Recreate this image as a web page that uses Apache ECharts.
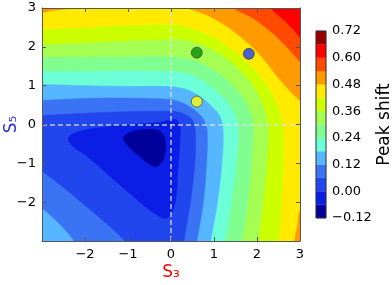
<!DOCTYPE html>
<html><head><meta charset="utf-8">
<script src="https://cdn.jsdelivr.net/npm/echarts@6/dist/echarts.min.js"></script>
<style>html,body{margin:0;padding:0;background:#fff}#c{width:392px;height:285px}</style>
</head><body><div id="c"></div>
<script>
// ---- data ----
const levels = [-0.12,-0.06,0.00,0.06,0.12,0.18,0.24,0.30,0.36,0.42,0.48,0.54,0.60,0.66,0.72];
const bandColors = ['#00009a','#0a1ee6','#2246ee','#3a73f4','#56b6ff','#6cffd8','#80ff90','#a4ff52','#ccff00','#ffea00','#ff9a00','#ff4a00','#ff0000','#990000'];
const colorbarTicks = [-0.12,0.00,0.12,0.24,0.36,0.48,0.60,0.72];
const markerPoints = [[0.6,1.85],[1.81,1.82],[0.6,0.59]];
const markerColors = ['#0a8a0a','#2040ff','#ffff00'];

// contour lines (S3, S5); end points sit just outside the frame
const c060 = [[2.1,3.3],[2.30,3.0],[2.67,2.63],[3.0,2.23],[3.2,1.95]];
const c054 = [[1.2,3.35],[1.44,3.0],[1.85,2.76],[2.30,2.40],[2.64,2.04],[3.0,1.60],[3.2,1.3]];
const c048tl = [[-3.3,2.83],[-3.0,2.87],[-2.6,2.94],[-2.12,3.0],[-1.7,3.2]];
const c048m = [[0.05,3.12],[0.33,3.0],[0.8,2.82],[1.25,2.55],[1.62,2.24],[1.95,1.92],[2.2,1.6],[2.45,1.25],[2.7,0.93],[3.0,0.59],[3.25,0.3]];
const c048br = [[3.3,-2.05],[3.0,-2.2],[2.93,-2.6],[2.86,-3.0],[2.82,-3.3]];
const c042 = [[-3.3,2.42],[-3.0,2.44],[-2.0,2.49],[-1.0,2.54],[0.0,2.56],[0.45,2.48],[1.1,2.17],[1.68,1.68],[2.17,1.1],[2.47,0.5],[2.60,-0.1],[2.61,-0.9],[2.57,-2.0],[2.50,-3.0],[2.47,-3.3]];
const c036 = [[-3.3,2.04],[-3.0,2.05],[-2.0,2.10],[-1.0,2.15],[0.0,2.18],[0.36,2.16],[0.98,1.91],[1.5,1.5],[1.91,0.98],[2.15,0.45],[2.26,-0.1],[2.23,-0.9],[2.14,-2.0],[2.03,-3.0],[2.0,-3.3]];
const c030 = [[-3.3,1.72],[-3.0,1.72],[-2.0,1.73],[-1.0,1.74],[0.0,1.74],[0.3,1.71],[0.76,1.54],[1.22,1.22],[1.6,0.8],[1.83,0.35],[1.91,-0.1],[1.88,-0.9],[1.78,-2.0],[1.65,-3.0],[1.6,-3.3]];
const c024 = [[-3.3,1.36],[-3.0,1.36],[-2.0,1.36],[-1.0,1.37],[0.0,1.36],[0.25,1.33],[0.58,1.22],[0.95,0.95],[1.28,0.61],[1.48,0.25],[1.56,-0.1],[1.52,-0.9],[1.40,-2.0],[1.26,-3.0],[1.22,-3.3]];
const c018 = [[-3.3,1.04],[-3.0,1.03],[-2.0,1.00],[-1.0,0.98],[0.0,0.97],[0.39,0.89],[0.70,0.70],[0.97,0.44],[1.14,0.2],[1.21,-0.15],[1.19,-0.9],[1.08,-2.0],[0.92,-3.0],[0.88,-3.3]];
const c012u = [[-3.3,0.62],[-3.0,0.62],[-2.0,0.67],[-1.0,0.68],[0.0,0.64],[0.21,0.58],[0.45,0.45],[0.66,0.26],[0.78,0.08],[0.84,-0.2],[0.83,-0.9],[0.75,-2.0],[0.60,-3.0],[0.56,-3.3]];
const c012ll = [[-2.15,-3.3],[-2.25,-3.0],[-2.6,-2.55],[-3.0,-2.15],[-3.3,-1.9]];
const c006u = [[-3.3,0.22],[-3.0,0.23],[-2.0,0.29],[-1.0,0.33],[0.0,0.34],[0.2,0.31],[0.38,0.23],[0.5,0.1],[0.56,-0.1],[0.56,-0.9],[0.45,-2.0],[0.30,-3.0],[0.27,-3.3]];
const c006ll = [[-0.9,-3.3],[-1.07,-3.0],[-1.5,-2.55],[-2.0,-2.08],[-2.5,-1.62],[-3.0,-1.2],[-3.3,-0.95]];
const c000 = [[0.12,0.12],[-0.3,0.05],[-0.9,0.0],[-1.5,-0.06],[-2.1,-0.17],[-2.38,-0.33],[-2.3,-0.54],[-1.95,-0.82],[-1.42,-1.33],[-0.88,-1.85],[-0.42,-2.26],[-0.09,-2.41],[0.09,-2.05],[0.16,-1.15],[0.21,-0.38],[0.21,-0.08]];
const cm006 = [[-1.1,-0.33],[-0.9,-0.18],[-0.6,-0.13],[-0.3,-0.15],[-0.16,-0.3],[-0.13,-0.6],[-0.18,-0.9],[-0.33,-1.08],[-0.5,-1.02],[-0.75,-0.8],[-1.0,-0.55]];

// ---- sub-level regions {value <= level}, painted from high to low ----
const regions = [
  {level:0.60, parts:[c060, [[6,-6],[-6,-6],[-6,6],[2.1,6]]]},
  {level:0.54, parts:[c054, [[6,-6],[-6,-6],[-6,6],[1.2,6]]]},
  {level:0.48, parts:[c048tl, [[-1.2,5],[0.1,5]], c048m, c048br, [[2.8,-6],[-6,-6],[-6,2.83]]]},
  {level:0.42, parts:[c042, [[2.47,-6],[-6,-6],[-6,2.42]]]},
  {level:0.36, parts:[c036, [[2.0,-6],[-6,-6],[-6,2.04]]]},
  {level:0.30, parts:[c030, [[1.6,-6],[-6,-6],[-6,1.72]]]},
  {level:0.24, parts:[c024, [[1.22,-6],[-6,-6],[-6,1.36]]]},
  {level:0.18, parts:[c018, [[0.88,-6],[-6,-6],[-6,1.04]]]},
  {level:0.12, parts:[c012u, c012ll]},
  {level:0.06, parts:[c006u, c006ll]},
  {level:0.00, parts:[c000]},
  {level:-0.06, parts:[cm006]}
];
regions.forEach(r => { r.color = bandColors[Math.round((r.level - levels[0]) / 0.06) - 1]; });

const minus = s => s.replace('-', '\u2212');
const axisCommon = {
  type:'value', min:-3, max:3, interval:1, z:10,
  axisLine:{show:true, onZero:false, lineStyle:{color:'#555', width:1}},
  axisTick:{show:true, inside:true, length:4, lineStyle:{color:'#555'}},
  splitLine:{show:false}
};
const mainLabel = {color:'#000', fontSize:13, fontFamily:'DejaVu Sans',
  formatter: v => v === -3 ? '' : minus(String(v))};

const chart = echarts.init(document.getElementById('c'), null, {renderer:'canvas'});
chart.setOption({
  animation:false,
  textStyle:{fontFamily:'DejaVu Sans'},
  grid:[
    {left:42, top:8, width:258, height:233, show:true, backgroundColor:bandColors[12], borderWidth:0,
      containLabel:false, outerBoundsMode:'none'},
    {left:316, top:31, width:10, height:187, containLabel:false, outerBoundsMode:'none'}
  ],
  xAxis:[
    Object.assign({}, axisCommon, {gridIndex:0, position:'bottom', axisLabel:Object.assign({margin:7}, mainLabel),
      name:'S\u2083', nameLocation:'middle', nameGap:23, nameMoveOverlap:false,
      nameTextStyle:{color:'#ff0000', fontSize:17, fontFamily:'DejaVu Sans'}}),
    Object.assign({}, axisCommon, {gridIndex:0, position:'top', axisLabel:{show:false}}),
    {type:'value', gridIndex:1, min:0, max:1, show:false}
  ],
  yAxis:[
    Object.assign({}, axisCommon, {gridIndex:0, position:'left', axisLabel:Object.assign({margin:6}, mainLabel),
      name:'S\u2085', nameLocation:'middle', nameGap:22, nameRotate:90, nameMoveOverlap:false,
      nameTextStyle:{color:'#2a2ad8', fontSize:17, fontFamily:'DejaVu Sans'}}),
    Object.assign({}, axisCommon, {gridIndex:0, position:'right', axisLabel:{show:false}}),
    {type:'value', gridIndex:1, min:-0.12, max:0.72, interval:0.12, position:'right',
      axisLine:{show:false}, axisTick:{show:false}, splitLine:{show:false},
      axisLabel:{color:'#000', fontSize:13, margin:6, formatter: v => minus(v.toFixed(2))},
      name:'Peak shift', nameLocation:'middle', nameRotate:90, nameGap:50, nameMoveOverlap:false,
      nameTextStyle:{color:'#000', fontSize:17}}
  ],
  series:[
    {
      type:'custom', xAxisIndex:0, yAxisIndex:0, z:1, clip:true, silent:true,
      data: regions.map((r,i) => [0,0,i]),
      encode:{x:0, y:1},
      renderItem(params, api){
        const r = regions[api.value(2)];
        const pts = [];
        r.parts.forEach(part => part.forEach(p => pts.push(api.coord(p))));
        return {type:'polygon', z2:api.value(2), shape:{points:pts, smooth:0.35},
          style:{fill:r.color, stroke:r.color, lineWidth:0.6}};
      }
    },
    {
      type:'scatter', xAxisIndex:0, yAxisIndex:0, z:6, symbolSize:11,
      data: markerPoints.map((p,i) => ({value:p, itemStyle:{color:markerColors[i]}})),
      itemStyle:{borderColor:'#333', borderWidth:0.8},
      markLine:{silent:true, symbol:'none', label:{show:false}, animation:false,
        lineStyle:{color:'rgba(222,222,236,0.85)', type:[5,3], width:1.5},
        data:[{xAxis:0},{yAxis:0}]}
    },
    {
      type:'custom', xAxisIndex:2, yAxisIndex:2, silent:true,
      data: bandColors.map((c,i) => [0, levels[i], levels[i+1]]),
      encode:{x:0, y:[1,2]},
      renderItem(params, api){
        const a = api.coord([0, api.value(1)]), b = api.coord([1, api.value(2)]);
        return {type:'rect', shape:{x:a[0], y:b[1], width:b[0]-a[0], height:a[1]-b[1]},
          style:{fill:bandColors[params.dataIndex], stroke:bandColors[params.dataIndex], lineWidth:0.3}};
      }
    },
    {
      type:'custom', xAxisIndex:2, yAxisIndex:2, silent:true, z:5,
      data:[[0, levels[0], levels[levels.length-1]]],
      encode:{x:0, y:[1,2]},
      renderItem(params, api){
        const a = api.coord([0, api.value(1)]), b = api.coord([1, api.value(2)]);
        return {type:'rect', shape:{x:a[0], y:b[1], width:b[0]-a[0], height:a[1]-b[1]},
          style:{fill:null, stroke:'#333', lineWidth:1}};
      }
    }
  ]
});
</script></body></html>
